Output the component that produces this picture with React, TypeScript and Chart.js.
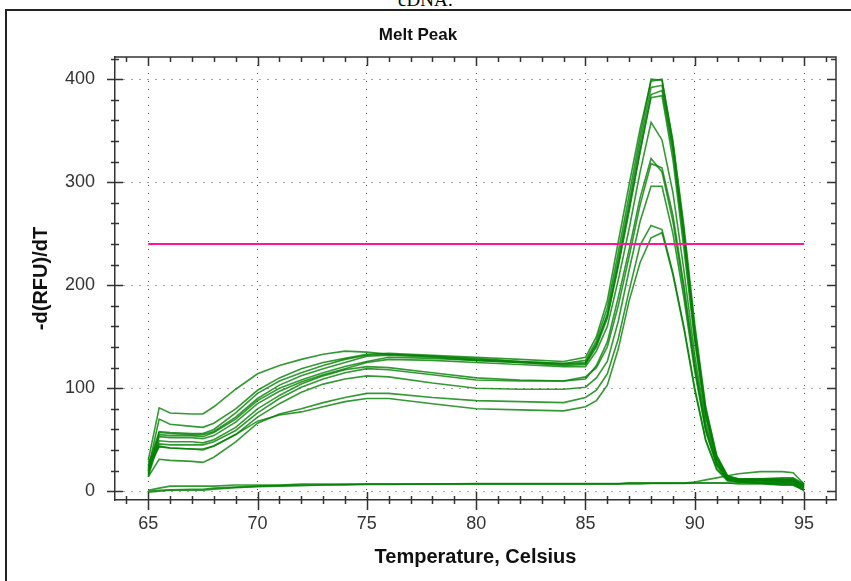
import { useEffect, useRef } from 'react';
import { Chart, registerables } from 'chart.js';

Chart.register(...registerables);

// Temperature points (°C) shared by all melt curves
const temps = [65, 65.5, 66, 67, 67.5, 68, 69, 70, 71, 72, 73, 74, 75, 76, 78, 80, 82, 84, 85, 85.5, 86, 86.5, 87, 87.5, 88, 88.5, 89, 89.5, 90, 90.5, 91, 91.5, 92, 93, 94, 94.5, 95];

// -d(RFU)/dT for each well
const well1 = [30, 81, 76, 75, 75, 82, 99, 114, 122, 128, 133, 136, 135, 133, 131, 129, 126, 124, 125, 143, 170, 220, 275, 330, 382, 384, 322, 236, 145, 72, 30, 13, 12, 12, 12, 12, 6];
const well2 = [22, 70, 65, 63, 62, 66, 80, 98, 110, 119, 125, 129, 133, 134, 132, 130, 128, 126, 130, 150, 185, 242, 298, 352, 398, 400, 338, 253, 157, 80, 34, 15, 11, 11, 11, 11, 5];
const well3 = [25, 58, 57, 56, 56, 60, 76, 95, 107, 115, 122, 128, 132, 133, 131, 128, 126, 124, 127, 146, 178, 232, 288, 345, 400, 399, 340, 258, 162, 82, 35, 15, 12, 12, 13, 13, 7];
const well4 = [18, 57, 56, 55, 55, 58, 72, 90, 103, 112, 119, 125, 131, 132, 130, 127, 125, 123, 124, 142, 172, 225, 280, 338, 392, 394, 333, 248, 152, 76, 32, 14, 11, 11, 10, 10, 4];
const well5 = [20, 55, 54, 54, 53, 57, 70, 88, 100, 108, 115, 121, 126, 130, 129, 127, 125, 122, 123, 140, 168, 218, 272, 330, 385, 389, 330, 245, 150, 75, 32, 13, 10, 10, 10, 10, 5];
const well6 = [16, 53, 52, 52, 51, 54, 67, 85, 97, 106, 113, 119, 125, 128, 127, 125, 123, 121, 121, 136, 160, 205, 255, 310, 358, 341, 290, 215, 132, 66, 28, 12, 10, 9, 9, 9, 3];
const well7 = [14, 49, 48, 48, 47, 50, 62, 80, 93, 104, 112, 118, 121, 120, 115, 110, 108, 107, 109, 122, 145, 188, 235, 285, 323, 310, 262, 195, 120, 60, 26, 12, 9, 8, 8, 7, 2];
const well8 = [28, 46, 45, 45, 45, 48, 59, 76, 90, 101, 109, 115, 119, 118, 113, 108, 107, 107, 111, 120, 140, 180, 228, 278, 318, 314, 268, 200, 124, 62, 27, 12, 11, 11, 11, 11, 6];
const well9 = [24, 43, 42, 41, 41, 44, 55, 72, 85, 96, 104, 109, 112, 111, 105, 100, 99, 99, 101, 110, 126, 165, 215, 262, 296, 296, 250, 188, 116, 58, 25, 11, 9, 8, 7, 7, 1];
const well10 = [14, 31, 30, 29, 28, 33, 48, 66, 75, 80, 86, 91, 95, 95, 91, 88, 87, 86, 91, 98, 114, 148, 195, 239, 258, 254, 212, 160, 100, 50, 22, 11, 10, 10, 9, 9, 4];
const well11 = [20, 44, 42, 41, 40, 44, 55, 68, 74, 77, 82, 87, 90, 90, 85, 80, 79, 78, 82, 88, 103, 138, 185, 222, 246, 251, 210, 158, 98, 49, 21, 10, 9, 8, 6, 6, 1];
// negative controls
const ntc1 = [1, 3, 5, 5, 5, 5, 6, 6, 6, 7, 7, 7, 7, 7, 7, 7, 7, 7, 7, 7, 7, 7, 8, 8, 8, 8, 8, 8, 9, 11, 13, 15, 17, 19, 19, 18, 7];
const ntc2 = [0, 1, 1.5, 2, 2, 3, 4, 5, 5.5, 6, 6, 6.5, 7, 7, 7, 7.5, 7.5, 7.5, 7.5, 7.5, 7.5, 7.5, 8, 8, 8, 8, 8, 8, 8, 8, 8, 8, 7, 7, 6, 6, 1];
const ntc3 = [-1, 0, 1, 1, 1, 2, 3.5, 4.5, 5, 5.5, 6, 6, 6.5, 6.5, 7, 7, 7, 7, 7, 7, 7, 7, 7, 7, 7.5, 7.5, 7.5, 7.5, 8, 8, 8, 8, 8, 8, 8, 8, 3];

// threshold line
const thresholdTemps = [65, 95];
const thresholdValues = [240, 240];

// axis ticks
const xMajorStep = 5;
const xLabelMin = 65;
const xLabelMax = 95;
const yMajorStep = 100;

const SANS = "'Liberation Sans', Arial, Helvetica, sans-serif";

export default function App() {
  const ref = useRef<HTMLCanvasElement>(null);

  useEffect(() => {
    const curves = [well1, well2, well3, well4, well5, well6, well7, well8, well9, well10, well11, ntc1, ntc2, ntc3];

    const isXMajor = (v: number) => Math.abs(v % xMajorStep) < 1e-6 && v >= xLabelMin && v <= xLabelMax;
    const isYMajor = (v: number) => Math.abs(v % yMajorStep) < 1e-6;

    const frameTicks = {
      id: 'frameTicks',
      afterDatasetsDraw(chart: any) {
        const { ctx, chartArea: a, scales } = chart;
        const xs = scales.x;
        const ys = scales.y;
        ctx.save();
        ctx.strokeStyle = '#333';
        ctx.lineWidth = 1.5;
        ctx.setLineDash([]);
        ctx.beginPath();
        ctx.moveTo(a.left, a.top);
        ctx.lineTo(a.right, a.top);
        ctx.lineTo(a.right, a.bottom);
        xs.ticks.forEach((t: any) => {
          const px = Math.round(xs.getPixelForValue(t.value)) + 0.5;
          const major = isXMajor(t.value);
          ctx.moveTo(px, a.bottom - (major ? 8 : 4));
          ctx.lineTo(px, a.bottom + (major ? 10 : 4));
          ctx.moveTo(px, a.top);
          ctx.lineTo(px, a.top + (major ? 9 : 5));
        });
        ys.ticks.forEach((t: any) => {
          const py = Math.round(ys.getPixelForValue(t.value)) + 0.5;
          const major = isYMajor(t.value);
          ctx.moveTo(a.left - (major ? 8 : 4), py);
          ctx.lineTo(a.left + (major ? 8 : 4), py);
          ctx.moveTo(a.right, py);
          ctx.lineTo(a.right - (major ? 9 : 5), py);
        });
        ctx.stroke();
        ctx.restore();
      },
    };

    const chart = new Chart(ref.current as HTMLCanvasElement, {
      type: 'line',
      data: {
        datasets: [
          {
            label: 'Threshold',
            data: thresholdTemps.map((t, i) => ({ x: t, y: thresholdValues[i] })),
            borderColor: '#ff1493',
            borderWidth: 2.2,
            pointRadius: 0,
            order: 0,
          },
          ...curves.map((c, k) => ({
            label: `Well ${k + 1}`,
            data: temps.map((t, i) => ({ x: t, y: c[i] })),
            borderColor: 'rgba(0,128,0,0.8)',
            borderWidth: 1.6,
            pointRadius: 0,
            tension: 0,
            order: 1,
          })),
        ],
      },
      options: {
        responsive: false,
        animation: false,
        layout: { padding: { left: 0, right: 15, top: 0, bottom: 0 } },
        plugins: {
          legend: { display: false },
          tooltip: { enabled: false },
          title: {
            display: true,
            text: 'Melt Peak',
            color: '#111',
            font: { family: SANS, size: 17, weight: 'bold' },
            padding: { top: 25, bottom: 11.6 },
          },
        },
        scales: {
          x: {
            type: 'linear',
            min: 63.48,
            max: 96.46,
            afterFit: (s: any) => {
              s.height = 81;
            },
            ticks: {
              stepSize: 1,
              autoSkip: false,
              includeBounds: false,
              maxRotation: 0,
              minRotation: 0,
              padding: 13,
              color: '#333',
              font: { family: SANS, size: 18 },
              callback: (v: any) => (isXMajor(Number(v)) ? String(Math.round(Number(v))) : ''),
            },
            grid: {
              drawTicks: false,
              lineWidth: 1,
              color: (ctx: any) => (ctx.tick && isXMajor(ctx.tick.value) ? '#444' : 'rgba(0,0,0,0)'),
            },
            border: { display: true, color: '#333', width: 1.5, dash: [1, 7] },
            title: {
              display: true,
              text: 'Temperature, Celsius',
              color: '#111',
              font: { family: SANS, size: 20, weight: 'bold' },
              padding: { top: 0, bottom: 12 },
            },
          },
          y: {
            type: 'linear',
            min: -8.5,
            max: 421.5,
            afterFit: (s: any) => {
              s.width = 115;
            },
            ticks: {
              stepSize: 20,
              autoSkip: false,
              includeBounds: false,
              padding: 20,
              color: '#333',
              font: { family: SANS, size: 18 },
              callback: (v: any) => (isYMajor(Number(v)) ? String(Math.round(Number(v))) : ''),
            },
            grid: {
              drawTicks: false,
              lineWidth: 1,
              color: (ctx: any) => (ctx.tick && isYMajor(ctx.tick.value) ? '#444' : 'rgba(0,0,0,0)'),
            },
            border: { display: true, color: '#333', width: 1.5, dash: [1, 7] },
            title: {
              display: true,
              text: '-d(RFU)/dT',
              color: '#111',
              font: { family: SANS, size: 20, weight: 'bold' },
              padding: { top: 29, bottom: 0 },
            },
          },
        },
      },
      plugins: [frameTicks],
    } as any);

    return () => chart.destroy();
  }, []);

  return (
    <div style={{ position: 'fixed', left: 0, top: 0, width: 851, height: 581, overflow: 'hidden', background: '#fff' }}>
      <div
        style={{
          position: 'absolute',
          left: 0,
          top: -10,
          width: 851,
          textAlign: 'center',
          fontFamily: "'Liberation Serif', 'Times New Roman', serif",
          fontSize: 19,
          lineHeight: '20px',
          color: '#000',
        }}
      >
        cDNA:
      </div>
      <div
        style={{
          position: 'absolute',
          left: 5,
          top: 9,
          width: 900,
          height: 700,
          border: '2px solid #222',
          boxSizing: 'border-box',
        }}
      />
      <canvas ref={ref} width={851} height={581} style={{ position: 'absolute', left: 0, top: 0 }} />
    </div>
  );
}
